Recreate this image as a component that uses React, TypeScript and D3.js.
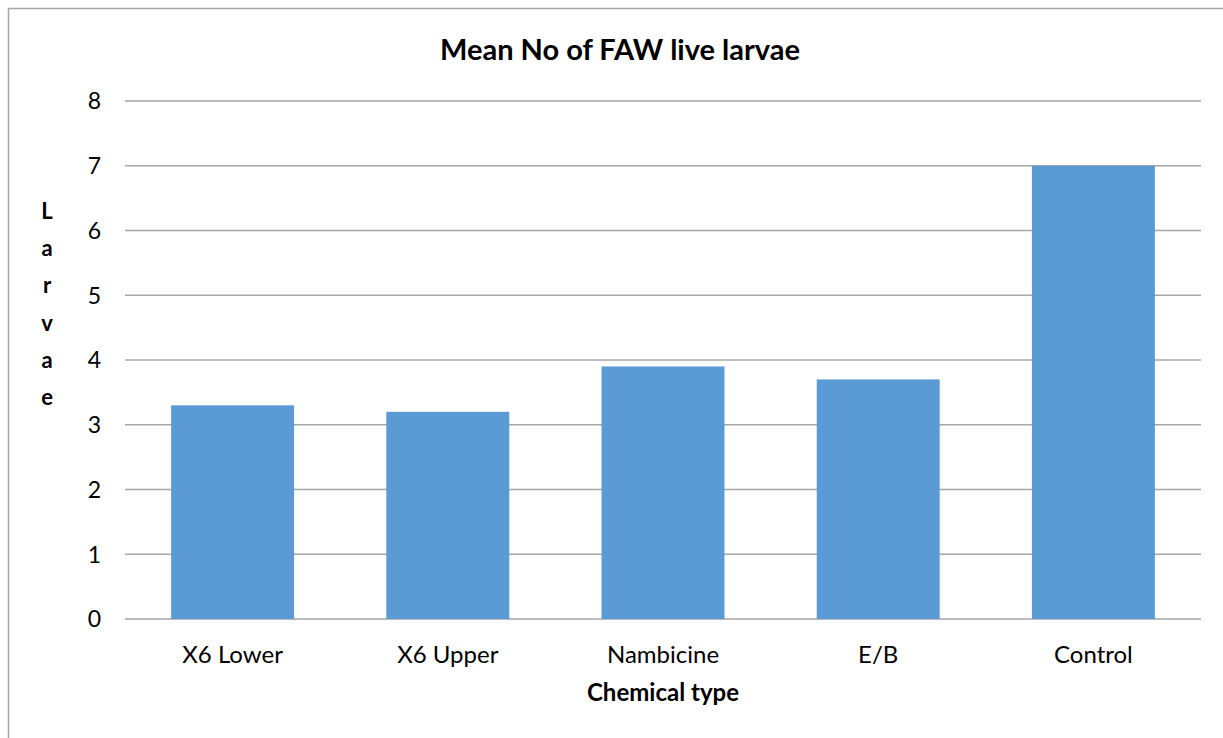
import { useMemo } from 'react'
import * as d3 from 'd3'

// ── data ─────────────────────────────────────────────────────────────────────
const categories = ['X6 Lower', 'X6 Upper', 'Nambicine', 'E/B', 'Control']
const larvae     = [3.3, 3.2, 3.9, 3.7, 7.0]
const yTicks     = [0, 1, 2, 3, 4, 5, 6, 7, 8]
const yLetters   = ['L', 'a', 'r', 'v', 'a', 'e']

// ── layout ───────────────────────────────────────────────────────────────────
const W = 1223
const H = 738
const M = { top: 101, right: 22, bottom: 119, left: 125 }
const BAR  = '#5b9bd5'
const GRID = '#a6a6a6'
const FONT = 'Lato, "Open Sans", sans-serif'

export default function App() {
  const iW = W - M.left - M.right
  const iH = H - M.top - M.bottom

  const x = useMemo(() => d3.scaleBand<string>().domain(categories).range([0, iW]), [iW])
  const y = useMemo(() => d3.scaleLinear().domain([0, 8]).range([iH, 0]), [iH])
  const barW = x.bandwidth() / 1.75   // 75% gap width

  return (
    <svg width={W} height={H} style={{ position: 'absolute', left: 0, top: 0, fontFamily: FONT }}>
      <rect x={0} y={0} width={W} height={H} fill="#fff" />
      {/* chart frame */}
      <line x1={8.5} x2={8.5} y1={8} y2={H} stroke={GRID} strokeWidth={1.5} />
      <line x1={8} x2={W} y1={8.5} y2={8.5} stroke={GRID} strokeWidth={1.5} />

      <text x={620} y={60} textAnchor="middle" fontSize={29} fontWeight="bold" fill="#000">
        Mean No of FAW live larvae
      </text>

      <g transform={`translate(${M.left},${M.top})`}>
        {yTicks.map(t => (
          <g key={t}>
            <line x1={0} x2={iW} y1={y(t)} y2={y(t)} stroke={GRID} strokeWidth={1.3} />
            <text x={-24} y={y(t)} dy="0.36em" textAnchor="end" fontSize={23} fill="#000">{t}</text>
          </g>
        ))}

        {categories.map((c, i) => (
          <rect
            key={c}
            x={(x(c) ?? 0) + (x.bandwidth() - barW) / 2}
            y={y(larvae[i])}
            width={barW}
            height={iH - y(larvae[i])}
            fill={BAR}
          />
        ))}

        {categories.map(c => (
          <text key={c} x={(x(c) ?? 0) + x.bandwidth() / 2} y={iH + 44} textAnchor="middle" fontSize={24} fill="#000">
            {c}
          </text>
        ))}

        <text x={iW / 2} y={iH + 82} textAnchor="middle" fontSize={24} fontWeight="bold" fill="#000">
          Chemical type
        </text>
      </g>

      {yLetters.map((l, i) => (
        <text key={i} x={47} y={219 + i * 37.2} textAnchor="middle" fontSize={22} fontWeight="bold" fill="#000">
          {l}
        </text>
      ))}
    </svg>
  )
}
